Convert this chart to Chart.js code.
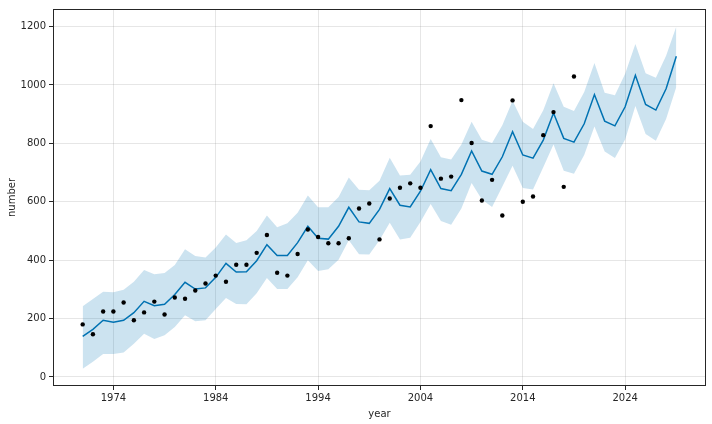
<!DOCTYPE html>
<html>
<head>
<meta charset="utf-8">
<script src="https://cdn.jsdelivr.net/npm/chart.js@4/dist/chart.umd.min.js"></script>
<style>
  body { margin: 0; background: #fff; }
  #wrap { width: 712px; height: 424px; }
</style>
</head>
<body>
<div id="wrap"><canvas id="forecastChart" width="712" height="424"></canvas></div>
<script>
// observed history
const histYears = [1971, 1972, 1973, 1974, 1975, 1976, 1977, 1978, 1979, 1980,
  1981, 1982, 1983, 1984, 1985, 1986, 1987, 1988, 1989, 1990,
  1991, 1992, 1993, 1994, 1995, 1996, 1997, 1998, 1999, 2000,
  2001, 2002, 2003, 2004, 2005, 2006, 2007, 2008, 2009, 2010,
  2011, 2012, 2013, 2014, 2015, 2016, 2017, 2018, 2019];
const actual = [180, 146, 224, 224, 255, 194, 221, 258, 214, 272,
  268, 296, 320, 347, 326, 384, 384, 425, 486, 357,
  347, 421, 505, 479, 458, 458, 475, 577, 594, 471,
  611, 648, 663, 648, 859, 679, 686, 948, 801, 604,
  675, 553, 947, 600, 618, 828, 907, 651, 1029];

// model fit + forecast
const fcYears = [1971, 1972, 1973, 1974, 1975, 1976, 1977, 1978, 1979, 1980,
  1981, 1982, 1983, 1984, 1985, 1986, 1987, 1988, 1989, 1990,
  1991, 1992, 1993, 1994, 1995, 1996, 1997, 1998, 1999, 2000,
  2001, 2002, 2003, 2004, 2005, 2006, 2007, 2008, 2009, 2010,
  2011, 2012, 2013, 2014, 2015, 2016, 2017, 2018, 2019, 2020,
  2021, 2022, 2023, 2024, 2025, 2026, 2027, 2028, 2029];
const yhat = [139, 163, 194, 187, 194, 220, 259, 244, 249, 282,
  324, 301, 305, 341, 389, 359, 360, 398, 453, 416,
  416, 460, 516, 475, 472, 516, 581, 531, 526, 574,
  645, 588, 582, 636, 710, 645, 638, 694, 774, 705,
  694, 754, 840, 760, 749, 811, 904, 817, 804, 867,
  967, 876, 860, 925, 1033, 933, 914, 987, 1098];
const yhatUpper = [242, 267, 292, 290, 299, 326, 366, 352, 356, 383,
  437, 414, 409, 443, 488, 459, 468, 500, 553, 513,
  526, 562, 621, 581, 581, 616, 683, 641, 639, 672,
  751, 690, 692, 738, 815, 752, 745, 796, 874, 812,
  801, 862, 946, 874, 849, 913, 1006, 925, 911, 976,
  1075, 973, 965, 1038, 1140, 1040, 1025, 1100, 1200];
const yhatLower = [28, 52, 79, 79, 84, 114, 148, 130, 143, 171,
  211, 191, 194, 233, 270, 250, 249, 287, 339, 301,
  301, 341, 400, 363, 369, 401, 468, 420, 419, 468,
  528, 471, 477, 531, 592, 534, 521, 577, 664, 608,
  582, 652, 723, 647, 642, 718, 796, 706, 696, 760,
  858, 772, 750, 813, 928, 832, 809, 883, 993];

const xTicks = [1974, 1984, 1994, 2004, 2014, 2024];
const yTicks = [0, 200, 400, 600, 800, 1000, 1200];

const toPts = (xs, ys) => xs.map((x, i) => ({ x: x, y: ys[i] }));

const BLUE = "#0072B2";
const GRID = "rgba(128,128,128,0.2)";
const INK = "#262626";

// matplotlib-like box around the axes
const frame = {
  id: "frame",
  afterDraw(chart) {
    const a = chart.chartArea;
    const c = chart.ctx;
    c.save();
    c.strokeStyle = INK;
    c.lineWidth = 1;
    c.strokeRect(a.left + 0.5, a.top + 0.5, a.right - a.left - 1, a.bottom - a.top - 1);
    c.restore();
  },
};

Chart.defaults.font.family = "'DejaVu Sans', sans-serif";
Chart.defaults.font.size = 10;
Chart.defaults.color = INK;

new Chart(document.getElementById("forecastChart"), {
  type: "line",
  data: {
    datasets: [
      {
        label: "upper",
        data: toPts(fcYears, yhatUpper),
        borderWidth: 0,
        pointRadius: 0,
        backgroundColor: "rgba(0,114,178,0.2)",
        fill: "+1",
        order: 3,
      },
      {
        label: "lower",
        data: toPts(fcYears, yhatLower),
        borderWidth: 0,
        pointRadius: 0,
        fill: false,
        order: 3,
      },
      {
        label: "yhat",
        data: toPts(fcYears, yhat),
        borderColor: BLUE,
        borderWidth: 1.5,
        pointRadius: 0,
        fill: false,
        order: 2,
      },
      {
        label: "actual",
        data: toPts(histYears, actual),
        showLine: false,
        pointRadius: 2.2,
        pointBackgroundColor: "#000",
        pointBorderWidth: 0,
        order: 1,
      },
    ],
  },
  options: {
    responsive: false,
    animation: false,
    layout: { padding: { top: 7, right: 6, left: 0, bottom: 0 } },
    plugins: {
      legend: { display: false },
      tooltip: { enabled: false },
    },
    scales: {
      x: {
        type: "linear",
        min: 1968.1,
        max: 2031.9,
        afterBuildTicks: (s) => { s.ticks = xTicks.map((v) => ({ value: v })); },
        afterFit: (s) => { s.height = 38; },
        ticks: {
          callback: (v) => String(v),
          maxRotation: 0,
          padding: 2,
          color: INK,
        },
        grid: { color: GRID, tickColor: INK, tickLength: 4, lineWidth: 1 },
        border: { display: false },
        title: { display: true, text: "year", padding: { top: 0, bottom: 4 }, color: INK },
      },
      y: {
        min: -31,
        max: 1260,
        afterBuildTicks: (s) => { s.ticks = yTicks.map((v) => ({ value: v })); },
        afterFit: (s) => { s.width = 53; },
        ticks: { padding: 3, color: INK, callback: (v) => String(v) },
        grid: { color: GRID, tickColor: INK, tickLength: 4, lineWidth: 1 },
        border: { display: false },
        title: { display: true, text: "number", padding: { top: 6, bottom: 4 }, color: INK },
      },
    },
  },
  plugins: [frame],
});
</script>
</body>
</html>
